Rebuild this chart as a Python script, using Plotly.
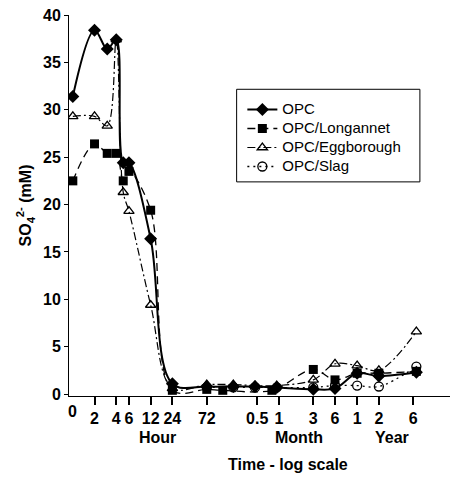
import numpy as np
import plotly.graph_objects as go

# Time in hours ("0" plotted at 1 h on the log axis)
opc_t = [1, 2, 3, 4, 5, 6, 12, 24, 72, 168, 336, 672, 2160, 4320, 8760, 17520, 58000]
opc_v = [31.4, 38.4, 36.4, 37.4, 24.4, 24.4, 16.4, 1.1, 0.8, 0.8, 0.8, 0.7, 0.5, 0.6, 2.2, 1.9, 2.3]

lon_t = [1, 2, 3, 4, 5, 6, 12, 24, 72, 120, 576, 2160, 4320, 8760, 17520, 58000]
lon_v = [22.5, 26.4, 25.4, 25.4, 22.5, 23.5, 19.4, 0.4, 0.5, 0.4, 0.4, 2.6, 1.5, 2.2, 2.2, 2.4]

egg_t = [1, 2, 3, 4, 5, 6, 12, 24, 72, 168, 336, 672, 2160, 4320, 8760, 17520, 58000]
egg_v = [29.3, 29.3, 28.3, 37.4, 21.3, 19.3, 9.4, 0.6, 1.0, 1.0, 0.9, 0.9, 1.5, 3.2, 3.0, 2.5, 6.6]

slag_t = [72, 168, 336, 672, 2160, 4320, 8760, 17520, 58000]
slag_v = [0.7, 0.7, 0.7, 0.7, 0.7, 0.9, 0.9, 0.8, 2.9]

series_names = ["OPC", "OPC/Longannet", "OPC/Eggborough", "OPC/Slag"]

tick_hours = [2, 4, 6, 12, 24, 72, 360, 720, 2160, 4320, 8760, 17520, 52560]
tick_text = ["2", "4", "6", "12", "24", "72", "0.5", "1", "3", "6", "1", "2", "6"]

FONT = "Arial, Liberation Sans, sans-serif"


def lx(t):
    return np.log10(np.array(t, dtype=float))


def lname(s):
    return '<span style="font-size:15px">' + s + '</span>'


fig = go.Figure()
fig.add_trace(go.Scatter(
    x=lx(opc_t), y=opc_v, name=lname(series_names[0]), mode="lines+markers",
    line=dict(color="black", width=2, shape="spline"),
    marker=dict(symbol="diamond", size=10, color="black")))
fig.add_trace(go.Scatter(
    x=lx(lon_t), y=lon_v, name=lname(series_names[1]), mode="lines+markers",
    line=dict(color="black", width=1.3, dash="8px,5px", shape="spline"),
    marker=dict(symbol="square", size=9, color="black")))
fig.add_trace(go.Scatter(
    x=lx(egg_t), y=egg_v, name=lname(series_names[2]), mode="lines+markers",
    line=dict(color="black", width=1.2, dash="8px,3px,2px,3px", shape="spline"),
    marker=dict(symbol="triangle-up-open", size=9, color="black", line=dict(width=1.3))))
fig.add_trace(go.Scatter(
    x=lx(slag_t), y=slag_v, name=lname(series_names[3]), mode="lines+markers",
    line=dict(color="black", width=1.3, dash="2px,4px", shape="spline"),
    marker=dict(symbol="circle-open", size=9, color="black", line=dict(width=1.3))))

fig.update_layout(
    width=450, height=477,
    margin=dict(l=69, r=0, t=15, b=81),
    paper_bgcolor="white", plot_bgcolor="white",
    font=dict(family=FONT, color="black"),
    showlegend=True,
    legend=dict(x=0.455, y=0.79, xanchor="left", yanchor="top",
                bgcolor="rgba(0,0,0,0)", borderwidth=0,
                font=dict(family=FONT, size=11, color="black"),
                itemwidth=30, tracegroupgap=0),
    xaxis=dict(range=[-0.053, 5.23], showgrid=False, zeroline=False,
               showline=True, linecolor="black", linewidth=1,
               tickmode="array", tickvals=list(lx(tick_hours)), ticktext=tick_text,
               ticks="outside", ticklen=8, tickcolor="black", tickwidth=1.5,
               tickfont=dict(family=FONT, size=16, color="black", weight="bold")),
    yaxis=dict(range=[-0.2, 40], showgrid=False, zeroline=False,
               showline=True, linecolor="black", linewidth=1,
               tickmode="linear", tick0=0, dtick=5,
               ticks="outside", ticklen=4, tickcolor="black",
               tickfont=dict(family=FONT, size=16, color="black", weight="bold")),
    shapes=[dict(type="rect", xref="paper", yref="paper",
                 x0=0.440, x1=0.921, y0=0.562, y1=0.805,
                 line=dict(color="black", width=1), fillcolor="rgba(0,0,0,0)")],
)

bold = dict(family=FONT, size=16, color="black", weight="bold")
fig.add_annotation(x=0, y=-0.040, xref="x", yref="paper", text="0", showarrow=False,
                   font=bold, xanchor="center", yanchor="middle")
for label, px in [("Hour", 0.232), ("Month", 0.604), ("Year", 0.847)]:
    fig.add_annotation(x=px, y=-0.108, xref="paper", yref="paper", text=label,
                       showarrow=False, font=bold, xanchor="center", yanchor="middle")
fig.add_annotation(x=0.5735, y=-0.179, xref="paper", yref="paper", text="Time - log scale",
                   showarrow=False, font=bold, xanchor="center", yanchor="middle")
fig.add_annotation(x=-0.1155, y=0.50, xref="paper", yref="paper",
                   text="SO<sub>4</sub><sup>2-</sup> (mM)", textangle=-90,
                   showarrow=False, font=bold, xanchor="center", yanchor="middle")

fig.write_html("out.html")
